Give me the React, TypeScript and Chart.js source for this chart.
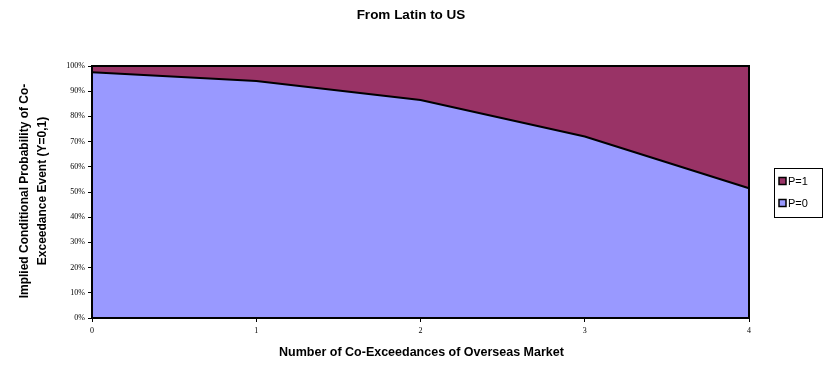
import React, { useEffect, useRef } from "react";
import { Chart, registerables } from "chart.js";

Chart.register(...registerables);

// Number of co-exceedances of the overseas market
const categories = ["0", "1", "2", "3", "4"];
// Implied conditional probability (%) of no co-exceedance event (P=0)
const pZero = [97.5, 94, 86.5, 72, 51.5];
// Implied conditional probability (%) of a co-exceedance event (P=1), stacked on top
const pOne = [2.5, 6, 13.5, 28, 48.5];
const yTicks = [0, 10, 20, 30, 40, 50, 60, 70, 80, 90, 100];

const TITLE = "From Latin to US";
const X_TITLE = "Number of Co-Exceedances of Overseas Market";
const Y_TITLE = ["Implied Conditional Probability of Co-", "Exceedance Event (Y=0,1)"];

const COLOR_P0 = "#9999FF";
const COLOR_P1 = "#993366";

const SANS = "'Liberation Sans', Arial, sans-serif";

const decorations = {
  id: "decorations",
  afterDatasetsDraw(chart: any) {
    const { ctx, chartArea } = chart;
    ctx.save();
    ctx.strokeStyle = "#000";
    ctx.lineWidth = 2;
    ctx.strokeRect(chartArea.left, chartArea.top, chartArea.right - chartArea.left, chartArea.bottom - chartArea.top);
    ctx.restore();
  },
  afterDraw(chart: any) {
    const { ctx, chartArea } = chart;
    ctx.save();
    ctx.fillStyle = "#000";
    ctx.textAlign = "center";
    ctx.textBaseline = "middle";
    ctx.font = `bold 13.5px ${SANS}`;
    ctx.fillText(TITLE, 411, 15);

    const cx = (chartArea.left + chartArea.right) / 2;
    ctx.font = `bold 12.5px ${SANS}`;
    ctx.fillText(X_TITLE, cx + 1, 353);

    const cy = (chartArea.top + chartArea.bottom) / 2;
    ctx.save();
    ctx.translate(25, cy - 1);
    ctx.rotate(-Math.PI / 2);
    ctx.font = `bold 12px ${SANS}`;
    ctx.fillText(Y_TITLE[0], 0, 0);
    ctx.fillText(Y_TITLE[1], 0, 18);
    ctx.restore();

    // legend box
    const lx = 774, ly = 168, lw = 48, lh = 49;
    ctx.fillStyle = "#fff";
    ctx.fillRect(lx, ly, lw, lh);
    ctx.strokeStyle = "#000";
    ctx.lineWidth = 1;
    ctx.strokeRect(lx + 0.5, ly + 0.5, lw, lh);
    const items = [
      { label: chart.data.datasets[1].label, color: chart.data.datasets[1].backgroundColor, y: ly + 13 },
      { label: chart.data.datasets[0].label, color: chart.data.datasets[0].backgroundColor, y: ly + 35 },
    ];
    ctx.textAlign = "left";
    ctx.font = `11px ${SANS}`;
    for (const it of items) {
      ctx.fillStyle = it.color;
      ctx.fillRect(lx + 5, it.y - 3.5, 7, 7);
      ctx.strokeStyle = "#000";
      ctx.lineWidth = 1.5;
      ctx.strokeRect(lx + 5, it.y - 3.5, 7, 7);
      ctx.fillStyle = "#000";
      ctx.fillText(it.label, lx + 14, it.y + 0.5);
    }
    ctx.restore();
  },
};

export default function App() {
  const ref = useRef<HTMLCanvasElement>(null);
  useEffect(() => {
    document.body.style.margin = "0";
    const chart = new Chart(ref.current!, {
      type: "line",
      data: {
        labels: categories,
        datasets: [
          {
            label: "P=0",
            data: pZero,
            backgroundColor: COLOR_P0,
            borderColor: "#000",
            borderWidth: 2,
            fill: "origin",
            pointRadius: 0,
            tension: 0,
          },
          {
            label: "P=1",
            data: pOne,
            backgroundColor: COLOR_P1,
            borderColor: "#000",
            borderWidth: 2,
            fill: "-1",
            pointRadius: 0,
            tension: 0,
          },
        ],
      },
      options: {
        animation: false,
        responsive: false,
        layout: { padding: { left: 0, top: 66, right: 75, bottom: 0 } },
        plugins: { legend: { display: false }, title: { display: false }, tooltip: { enabled: false } },
        scales: {
          x: {
            type: "category",
            offset: false,
            border: { display: false },
            grid: { drawOnChartArea: false, drawTicks: true, tickLength: 4, color: "#000", lineWidth: 1 },
            ticks: {
              color: "#000",
              font: { family: "'Liberation Serif', 'Times New Roman', serif", size: 8 },
              padding: 4,
              maxRotation: 0,
            },
            afterFit(scale: any) {
              scale.height = 47;
            },
          },
          y: {
            stacked: true,
            min: 0,
            max: 100,
            border: { display: false },
            grid: { drawOnChartArea: false, drawTicks: true, tickLength: 4, color: "#000", lineWidth: 1 },
            afterBuildTicks(scale: any) {
              scale.ticks = yTicks.map((v) => ({ value: v }));
            },
            ticks: {
              color: "#000",
              font: { family: "'Liberation Serif', 'Times New Roman', serif", size: 8 },
              padding: 3,
              callback: (v: any) => v + "%",
            },
            afterFit(scale: any) {
              scale.width = 92;
            },
          },
        },
      },
      plugins: [decorations],
    });
    return () => chart.destroy();
  }, []);
  return <canvas ref={ref} width={824} height={365} style={{ display: "block" }} />;
}
